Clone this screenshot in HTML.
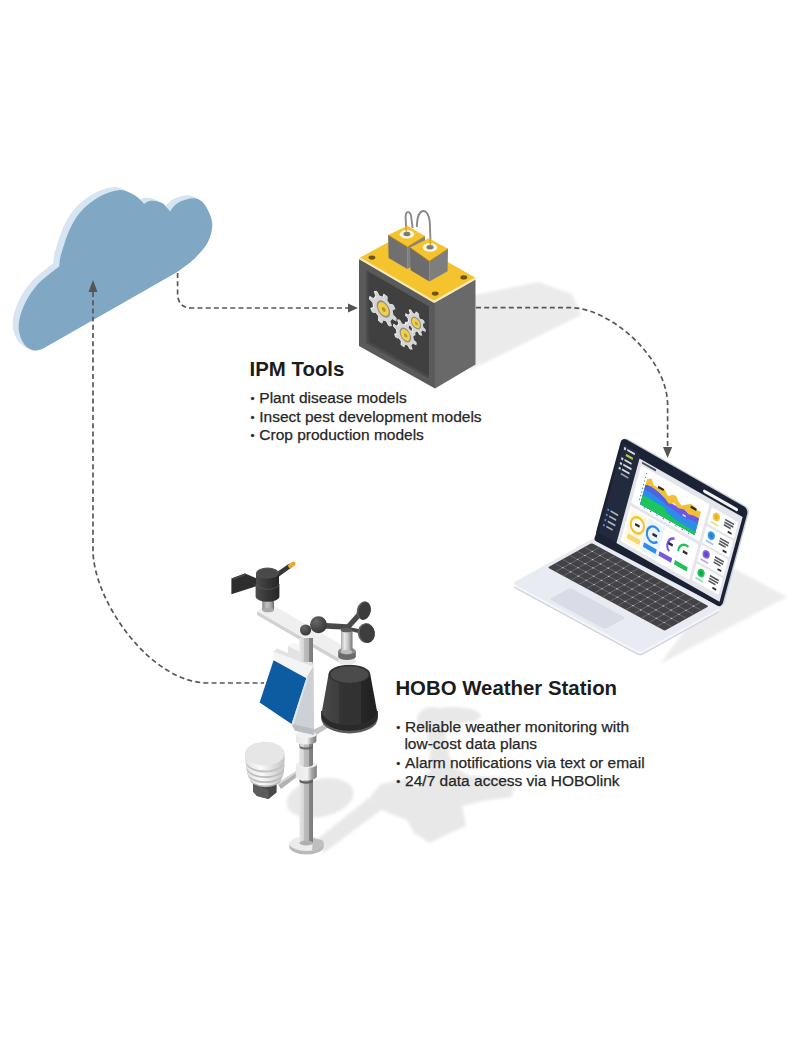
<!DOCTYPE html>
<html lang="en">
<head>
<meta charset="utf-8">
<title>IPM Tools and HOBO Weather Station</title>
<style>
  html, body { margin: 0; padding: 0; background: #ffffff; }
  body { width: 800px; height: 1040px; overflow: hidden; position: relative;
         font-family: "Liberation Sans", Arial, sans-serif; }
  svg { position: absolute; left: 0; top: 0; display: block; }
  .h { font-family: "Liberation Sans", Arial, sans-serif; font-weight: 700; font-size: 20.4px; fill: #1c1c1c; }
  .b { font-family: "Liberation Sans", Arial, sans-serif; font-weight: 400; font-size: 15.5px; fill: #262626; stroke: #262626; stroke-width: 0.25; }
  .dash { fill: none; stroke: #575757; stroke-width: 1.7; stroke-dasharray: 5 3.2; }
  .ah { fill: #555555; }
</style>
</head>
<body>
<svg width="800" height="1040" viewBox="0 0 800 1040">
  <defs>
    <filter id="soft" x="-5%" y="-5%" width="110%" height="110%"><feGaussianBlur stdDeviation="0.6"/></filter>
    <filter id="shadowblur" x="-10%" y="-10%" width="120%" height="120%"><feGaussianBlur stdDeviation="1.6"/></filter>
  </defs>
  <rect x="0" y="0" width="800" height="1040" fill="#ffffff"/>

  <!-- ============ SHADOWS ============ -->
  <g id="shadows" filter="url(#shadowblur)">
    <!-- box shadow -->
    <polygon points="470,296 538,282 572,294 581,315 470,370" fill="#ebebeb"/>
    <!-- laptop shadow -->
    <polygon points="733,568 787,597 660,664 700,610" fill="#ececec"/>
  </g>
  <!--SHST--><g id="stshadow" filter="url(#shadowblur)" fill="#e8e8e8">
    <polygon points="313,842.7 324.4,852.5 381,810 370,797"/>
    <ellipse cx="320" cy="798" rx="34" ry="19" transform="rotate(-12 320 798)"/>
    <polygon points="370,797 381,784 407,779 417,787.5 430,770 452,766 470,776 500,777 514,786 512,797 482,801 462,806 466,826 452,832 430,843 414,833 407,820 381,810"/>
    <ellipse cx="436" cy="818" rx="22" ry="15"/>
    <polygon points="426,728 445,728 447,748 454,768 430,772 430,750"/>
    <ellipse cx="432" cy="720" rx="15" ry="13"/>
    <ellipse cx="452" cy="715.5" rx="29" ry="8.5"/>
  </g><!--SHEND-->

  <!-- ============ CLOUD ============ -->
  <g id="cloud" filter="url(#soft)">
    <path d="M39.0,344.5 C34.7,346.7 32.8,347.4 30.0,347.5 C27.2,347.6 24.8,346.7 22.5,345.2 C20.2,343.7 18.1,341.6 16.5,338.5 C14.9,335.4 13.1,330.8 12.8,326.5 C12.4,322.2 12.9,318.0 14.2,313.0 C15.6,308.0 18.1,301.8 21.0,296.5 C23.9,291.2 27.8,285.8 31.5,281.5 C35.2,277.2 39.9,274.0 43.5,271.0 C47.1,268.0 51.6,264.8 53.2,263.5 C53.4,262.2 53.4,259.1 54.0,256.0 C54.6,252.9 55.5,249.7 57.0,245.0 C58.5,240.3 60.5,233.5 63.0,228.0 C65.5,222.5 68.5,216.7 72.0,212.0 C75.5,207.3 79.5,203.5 84.0,200.0 C88.5,196.5 94.0,193.2 99.0,191.0 C104.0,188.8 110.2,187.3 114.0,187.0 C117.8,186.7 119.4,188.0 122.0,189.0 C124.6,190.0 127.3,191.4 129.7,193.0 C132.1,194.6 134.8,197.3 136.2,198.7 C137.6,200.0 137.6,200.7 137.9,201.1 C138.7,200.6 140.8,198.7 142.7,198.2 C144.6,197.7 146.9,197.6 149.2,197.9 C151.5,198.2 154.7,199.2 156.6,200.3 C158.5,201.4 159.3,203.1 160.6,204.4 C161.9,205.8 163.6,207.7 164.2,208.4 C164.7,207.7 166.0,205.4 167.0,204.2 C168.0,203.0 169.2,202.0 170.4,201.1 C171.6,200.2 172.8,199.3 174.2,198.6 C175.5,197.9 176.9,197.5 178.5,197.0 C180.1,196.5 182.1,195.9 184.0,195.6 C185.9,195.3 188.2,195.1 189.9,195.4 C191.7,195.7 193.1,196.4 194.5,197.4 C195.9,198.4 197.0,199.3 198.4,201.3 C199.8,203.3 201.6,206.2 202.9,209.2 C204.2,212.1 205.7,215.8 206.1,219.0 C206.5,222.2 206.2,225.2 205.6,228.5 C204.9,231.8 203.5,235.8 202.2,238.5 C200.9,241.2 199.7,242.8 198.0,245.0 C196.3,247.2 194.2,249.7 192.0,252.0 C189.8,254.3 188.6,255.9 185.0,258.8 C181.4,261.7 175.7,266.0 170.4,269.4 Z" fill="#d6e5f1"/>
    <path d="M40.5,345.2 C36.2,347.4 34.2,348.1 31.5,348.2 C28.8,348.4 26.2,347.4 24.0,345.9 C21.8,344.4 19.6,342.4 18.0,339.2 C16.4,336.1 14.6,331.5 14.2,327.2 C13.9,323.0 14.4,318.8 15.8,313.8 C17.1,308.8 19.6,302.5 22.5,297.2 C25.4,292.0 29.2,286.5 33.0,282.2 C36.8,278.0 41.4,274.8 45.0,271.8 C48.6,268.8 53.1,265.5 54.8,264.2 C54.9,263.0 54.9,259.8 55.5,256.8 C56.1,253.7 57.0,250.4 58.5,245.8 C60.0,241.1 62.0,234.2 64.5,228.8 C67.0,223.2 70.0,217.4 73.5,212.8 C77.0,208.1 81.0,204.2 85.5,200.8 C90.0,197.2 95.5,193.9 100.5,191.8 C105.5,189.6 111.7,188.1 115.5,187.8 C119.3,187.4 120.9,188.8 123.5,189.8 C126.1,190.8 128.8,192.1 131.2,193.8 C133.6,195.4 136.3,198.1 137.7,199.4 C139.1,200.8 139.1,201.4 139.4,201.8 C140.2,201.4 142.3,199.5 144.2,198.9 C146.1,198.4 148.4,198.3 150.7,198.7 C153.0,199.0 156.2,200.0 158.1,201.1 C160.0,202.1 160.8,203.8 162.1,205.2 C163.4,206.5 165.1,208.5 165.7,209.2 C166.2,208.4 167.5,206.2 168.5,204.9 C169.5,203.7 170.7,202.8 171.9,201.8 C173.1,200.9 174.3,200.0 175.7,199.3 C177.0,198.7 178.4,198.2 180.0,197.8 C181.6,197.2 183.6,196.6 185.5,196.3 C187.4,196.1 189.7,195.8 191.4,196.2 C193.2,196.5 194.6,197.2 196.0,198.2 C197.4,199.1 198.5,200.1 199.9,202.1 C201.3,204.0 203.1,207.0 204.4,209.9 C205.7,212.9 207.2,216.5 207.6,219.8 C208.0,223.0 207.8,226.0 207.1,229.2 C206.4,232.5 205.0,236.5 203.7,239.2 C202.4,242.0 201.2,243.5 199.5,245.8 C197.8,248.0 195.7,250.4 193.5,252.8 C191.3,255.1 190.1,256.7 186.5,259.6 C182.9,262.4 177.2,266.7 171.9,270.1 Z" fill="#d6e5f1"/>
    <path d="M42.0,346.0 C37.7,348.2 35.8,348.9 33.0,349.0 C30.2,349.1 27.8,348.2 25.5,346.7 C23.2,345.2 21.1,343.1 19.5,340.0 C17.9,336.9 16.1,332.2 15.8,328.0 C15.4,323.8 15.9,319.5 17.2,314.5 C18.6,309.5 21.1,303.2 24.0,298.0 C26.9,292.8 30.8,287.2 34.5,283.0 C38.2,278.8 42.9,275.5 46.5,272.5 C50.1,269.5 54.6,266.2 56.2,265.0 C56.4,263.8 56.4,260.6 57.0,257.5 C57.6,254.4 58.5,251.2 60.0,246.5 C61.5,241.8 63.5,235.0 66.0,229.5 C68.5,224.0 71.5,218.2 75.0,213.5 C78.5,208.8 82.5,205.0 87.0,201.5 C91.5,198.0 97.0,194.7 102.0,192.5 C107.0,190.3 113.2,188.8 117.0,188.5 C120.8,188.2 122.4,189.5 125.0,190.5 C127.6,191.5 130.3,192.9 132.7,194.5 C135.1,196.1 137.8,198.8 139.2,200.2 C140.6,201.5 140.6,202.2 140.9,202.6 C141.7,202.1 143.8,200.2 145.7,199.7 C147.6,199.2 149.9,199.1 152.2,199.4 C154.5,199.8 157.7,200.7 159.6,201.8 C161.5,202.9 162.3,204.6 163.6,205.9 C164.9,207.2 166.6,209.2 167.2,209.9 C167.7,209.2 169.0,206.9 170.0,205.7 C171.0,204.5 172.2,203.5 173.4,202.6 C174.6,201.7 175.8,200.8 177.2,200.1 C178.5,199.4 179.9,199.0 181.5,198.5 C183.1,198.0 185.1,197.4 187.0,197.1 C188.9,196.8 191.2,196.6 192.9,196.9 C194.7,197.2 196.1,197.9 197.5,198.9 C198.9,199.9 200.0,200.8 201.4,202.8 C202.8,204.8 204.6,207.8 205.9,210.7 C207.2,213.6 208.7,217.3 209.1,220.5 C209.5,223.7 209.2,226.8 208.6,230.0 C207.9,233.2 206.5,237.2 205.2,240.0 C203.9,242.8 202.7,244.2 201.0,246.5 C199.3,248.8 197.2,251.2 195.0,253.5 C192.8,255.8 191.6,257.4 188.0,260.3 C184.4,263.2 178.7,267.5 173.4,270.9 Z" fill="#d6e5f1"/>
    <path d="M43.5,346.8 C39.2,348.9 37.2,349.6 34.5,349.8 C31.8,349.9 29.2,348.9 27.0,347.4 C24.8,345.9 22.6,343.9 21.0,340.8 C19.4,337.6 17.6,333.0 17.2,328.8 C16.9,324.5 17.4,320.2 18.8,315.2 C20.1,310.2 22.6,304.0 25.5,298.8 C28.4,293.5 32.2,288.0 36.0,283.8 C39.8,279.5 44.4,276.2 48.0,273.2 C51.6,270.2 56.1,267.0 57.8,265.8 C57.9,264.5 57.9,261.3 58.5,258.2 C59.1,255.2 60.0,251.9 61.5,247.2 C63.0,242.6 65.0,235.8 67.5,230.2 C70.0,224.8 73.0,218.9 76.5,214.2 C80.0,209.6 84.0,205.8 88.5,202.2 C93.0,198.8 98.5,195.4 103.5,193.2 C108.5,191.1 114.7,189.6 118.5,189.2 C122.3,188.9 123.9,190.2 126.5,191.2 C129.1,192.2 131.8,193.6 134.2,195.2 C136.6,196.9 139.3,199.6 140.7,200.9 C142.1,202.3 142.1,202.9 142.4,203.3 C143.2,202.9 145.3,201.0 147.2,200.4 C149.1,199.9 151.4,199.8 153.7,200.2 C156.0,200.5 159.2,201.5 161.1,202.6 C163.0,203.6 163.8,205.3 165.1,206.7 C166.4,208.0 168.1,210.0 168.7,210.7 C169.2,209.9 170.5,207.7 171.5,206.4 C172.5,205.2 173.7,204.3 174.9,203.3 C176.1,202.4 177.3,201.5 178.7,200.8 C180.0,200.2 181.4,199.8 183.0,199.2 C184.6,198.8 186.6,198.1 188.5,197.8 C190.4,197.6 192.7,197.3 194.4,197.7 C196.2,198.0 197.6,198.7 199.0,199.7 C200.4,200.6 201.5,201.6 202.9,203.6 C204.3,205.5 206.1,208.5 207.4,211.4 C208.7,214.4 210.2,218.0 210.6,221.2 C211.0,224.5 210.8,227.5 210.1,230.8 C209.4,234.0 208.0,238.0 206.7,240.8 C205.4,243.5 204.2,245.0 202.5,247.2 C200.8,249.5 198.7,251.9 196.5,254.2 C194.3,256.6 193.1,258.2 189.5,261.1 C185.9,263.9 180.2,268.2 174.9,271.6 Z" fill="#d6e5f1"/>
    <path d="M45.0,347.5 C40.7,349.7 38.8,350.4 36.0,350.5 C33.2,350.6 30.8,349.7 28.5,348.2 C26.2,346.7 24.1,344.6 22.5,341.5 C20.9,338.4 19.1,333.8 18.8,329.5 C18.4,325.2 18.9,321.0 20.2,316.0 C21.6,311.0 24.1,304.8 27.0,299.5 C29.9,294.2 33.8,288.8 37.5,284.5 C41.2,280.2 45.9,277.0 49.5,274.0 C53.1,271.0 57.6,267.8 59.2,266.5 C59.4,265.2 59.4,262.1 60.0,259.0 C60.6,255.9 61.5,252.7 63.0,248.0 C64.5,243.3 66.5,236.5 69.0,231.0 C71.5,225.5 74.5,219.7 78.0,215.0 C81.5,210.3 85.5,206.5 90.0,203.0 C94.5,199.5 100.0,196.2 105.0,194.0 C110.0,191.8 116.2,190.3 120.0,190.0 C123.8,189.7 125.4,191.0 128.0,192.0 C130.6,193.0 133.3,194.4 135.7,196.0 C138.1,197.6 140.8,200.3 142.2,201.7 C143.6,203.0 143.6,203.7 143.9,204.1 C144.7,203.6 146.8,201.7 148.7,201.2 C150.6,200.7 152.9,200.6 155.2,200.9 C157.5,201.2 160.7,202.2 162.6,203.3 C164.5,204.4 165.3,206.1 166.6,207.4 C167.9,208.8 169.6,210.7 170.2,211.4 C170.7,210.7 172.0,208.4 173.0,207.2 C174.0,206.0 175.2,205.0 176.4,204.1 C177.6,203.2 178.8,202.3 180.2,201.6 C181.5,200.9 182.9,200.5 184.5,200.0 C186.1,199.5 188.1,198.9 190.0,198.6 C191.9,198.3 194.2,198.1 195.9,198.4 C197.7,198.7 199.1,199.4 200.5,200.4 C201.9,201.4 203.0,202.3 204.4,204.3 C205.8,206.3 207.6,209.2 208.9,212.2 C210.2,215.1 211.7,218.8 212.1,222.0 C212.5,225.2 212.2,228.2 211.6,231.5 C210.9,234.8 209.5,238.8 208.2,241.5 C206.9,244.2 205.7,245.8 204.0,248.0 C202.3,250.2 200.2,252.7 198.0,255.0 C195.8,257.3 194.6,258.9 191.0,261.8 C187.4,264.7 181.7,269.0 176.4,272.4 Z" fill="#80a8c4"/>
  </g>

  <!-- ============ CONNECTORS ============ -->
  <g id="connectors">
    <path class="dash" d="M93,292 L93,550 C93,600 150,683 208,683 L264,683"/>
    <polygon class="ah" points="93,280 97.5,292 88.5,292"/>
    <path class="dash" d="M177.6,273 L177.6,293 Q177.6,308 192,308 L350,308"/>
    <polygon class="ah" points="358,308 348,303.5 348,312.5"/>
    <path class="dash" d="M476,307.6 L570,307.6 C610,307.6 667.6,358 667.6,405 L667.6,448"/>
    <polygon class="ah" points="667.6,458 663,447 672.2,447"/>
  </g>

  <!--BOXSTART--><!-- ============ IPM BOX ============ -->
  <g id="ipmbox" filter="url(#soft)">
    <!-- main body -->
    <polygon points="359,259 435,302.5 435,388.5 359,346" fill="#5a5a5a"/>
    <polygon points="435,302.5 475.5,279.5 475.5,364.5 435,388.5" fill="#696969"/>
    <polygon points="366.5,270.5 429,306.5 429,378.5 366.5,343" fill="#3f3f3f"/>
    <polygon points="366.5,343 429,378.5 429,376 368.5,341.5 368.5,272 366.5,270.5" fill="#4b4b4b"/>
    <!-- yellow top plate -->
    <polygon points="358,258.5 401,235 477,278.5 434,303" fill="#f6e9b4"/>
    <polygon points="360.5,257.6 401,235.6 474.8,277.6 434,300.4" fill="#f4c32e"/>
    <!-- screws -->
    <ellipse cx="371.9" cy="257.6" rx="3.4" ry="2.1" fill="#6b5712"/>
    <ellipse cx="463.8" cy="277.4" rx="3.4" ry="2.1" fill="#6b5712"/>
    <ellipse cx="435.2" cy="293.6" rx="3.4" ry="2.1" fill="#6b5712"/>
    <!-- wires -->
    <path d="M406.3,232 L405.6,217 C405.6,210.5 410.4,210.5 411.2,217 L412.6,228" fill="none" stroke="#8a8a8a" stroke-width="1.9"/>
    <path d="M416.9,227 C417,206 428.5,207 429.8,222 L430.6,245" fill="none" stroke="#8a8a8a" stroke-width="1.9"/>
    <!-- small cube 1 (back) -->
    <polygon points="388.1,235 407.5,246.9 407.5,269 388.6,258" fill="#6f6f6f"/>
    <polygon points="407.5,246.9 425,236.3 425,259 407.5,269" fill="#828282"/>
    <polygon points="388.1,235 407.5,225.8 425,236.3 407.5,246.9" fill="#f4c32e"/>
    <polyline points="388.1,235 407.5,246.9 425,236.3" fill="none" stroke="#b8860f" stroke-width="0.8"/>
    <ellipse cx="406.9" cy="234.2" rx="7.3" ry="4.3" fill="#fbf6e2"/>
    <ellipse cx="406.9" cy="234" rx="3.5" ry="2.2" fill="#7a7a7a"/>
    <!-- small cube 2 (front) -->
    <polygon points="410,247.5 429.4,261.2 429.4,281.6 410.6,270.3" fill="#6c6c6c"/>
    <polygon points="429.4,261.2 448,248.8 447.6,271.2 429.4,281.6" fill="#7e7e7e"/>
    <polygon points="410,247.5 428.8,238.2 448,248.8 429.4,261.2" fill="#f4c32e"/>
    <polyline points="410,247.5 429.4,261.2 448,248.8" fill="none" stroke="#b8860f" stroke-width="0.8"/>
    <ellipse cx="430" cy="247.4" rx="7.3" ry="4.3" fill="#fbf6e2"/>
    <ellipse cx="430" cy="247.2" rx="3.5" ry="2.2" fill="#7a7a7a"/>
    <path d="M406.3,232 L406.1,227" fill="none" stroke="#d9a81c" stroke-width="1.4"/>
    <path d="M430.4,245 L430.2,239" fill="none" stroke="#d9a81c" stroke-width="1.4"/>
    <!-- gears -->
    <g transform="translate(383.4,309.0) matrix(0.866,0.5,0,1,0,0)"><path d="M11.54,0.00 L15.53,1.47 L14.76,5.05 L10.52,4.75 L8.16,8.16 L9.94,12.02 L6.86,14.01 L4.08,10.80 L0.00,11.54 L-1.47,15.53 L-5.05,14.76 L-4.75,10.52 L-8.16,8.16 L-12.02,9.94 L-14.01,6.86 L-10.80,4.08 L-11.54,0.00 L-15.53,-1.47 L-14.76,-5.05 L-10.52,-4.75 L-8.16,-8.16 L-9.94,-12.02 L-6.86,-14.01 L-4.08,-10.80 L-0.00,-11.54 L1.47,-15.53 L5.05,-14.76 L4.75,-10.52 L8.16,-8.16 L12.02,-9.94 L14.01,-6.86 L10.80,-4.08Z" fill="#f2f2f2" transform="translate(-1.2,-0.2)"/><path d="M11.54,0.00 L15.53,1.47 L14.76,5.05 L10.52,4.75 L8.16,8.16 L9.94,12.02 L6.86,14.01 L4.08,10.80 L0.00,11.54 L-1.47,15.53 L-5.05,14.76 L-4.75,10.52 L-8.16,8.16 L-12.02,9.94 L-14.01,6.86 L-10.80,4.08 L-11.54,0.00 L-15.53,-1.47 L-14.76,-5.05 L-10.52,-4.75 L-8.16,-8.16 L-9.94,-12.02 L-6.86,-14.01 L-4.08,-10.80 L-0.00,-11.54 L1.47,-15.53 L5.05,-14.76 L4.75,-10.52 L8.16,-8.16 L12.02,-9.94 L14.01,-6.86 L10.80,-4.08Z" fill="#d4d4d4"/><circle r="7.80" fill="#8f8f86"/><circle r="6.24" fill="#f0cf4a"/><circle r="2.18" fill="#b39a2a" cx="0.4" cy="0.3"/></g>
    <g transform="translate(405.4,335.0) matrix(0.866,0.5,0,1,0,0)"><path d="M9.84,0.00 L13.24,1.25 L12.58,4.31 L8.97,4.05 L6.96,6.96 L8.48,10.25 L5.85,11.94 L3.48,9.21 L0.00,9.84 L-1.25,13.24 L-4.31,12.58 L-4.05,8.97 L-6.96,6.96 L-10.25,8.48 L-11.94,5.85 L-9.21,3.48 L-9.84,0.00 L-13.24,-1.25 L-12.58,-4.31 L-8.97,-4.05 L-6.96,-6.96 L-8.48,-10.25 L-5.85,-11.94 L-3.48,-9.21 L-0.00,-9.84 L1.25,-13.24 L4.31,-12.58 L4.05,-8.97 L6.96,-6.96 L10.25,-8.48 L11.94,-5.85 L9.21,-3.48Z" fill="#f2f2f2" transform="translate(-1.2,-0.2)"/><path d="M9.84,0.00 L13.24,1.25 L12.58,4.31 L8.97,4.05 L6.96,6.96 L8.48,10.25 L5.85,11.94 L3.48,9.21 L0.00,9.84 L-1.25,13.24 L-4.31,12.58 L-4.05,8.97 L-6.96,6.96 L-10.25,8.48 L-11.94,5.85 L-9.21,3.48 L-9.84,0.00 L-13.24,-1.25 L-12.58,-4.31 L-8.97,-4.05 L-6.96,-6.96 L-8.48,-10.25 L-5.85,-11.94 L-3.48,-9.21 L-0.00,-9.84 L1.25,-13.24 L4.31,-12.58 L4.05,-8.97 L6.96,-6.96 L10.25,-8.48 L11.94,-5.85 L9.21,-3.48Z" fill="#d4d4d4"/><circle r="6.65" fill="#8f8f86"/><circle r="5.32" fill="#f0cf4a"/><circle r="1.86" fill="#b39a2a" cx="0.4" cy="0.3"/></g>
    <g transform="translate(416.0,323.0) matrix(0.866,0.5,0,1,0,0)"><path d="M8.51,0.00 L11.45,1.08 L10.88,3.73 L7.76,3.50 L6.02,6.02 L7.33,8.86 L5.06,10.33 L3.01,7.96 L0.00,8.51 L-1.08,11.45 L-3.73,10.88 L-3.50,7.76 L-6.02,6.02 L-8.86,7.33 L-10.33,5.06 L-7.96,3.01 L-8.51,0.00 L-11.45,-1.08 L-10.88,-3.73 L-7.76,-3.50 L-6.02,-6.02 L-7.33,-8.86 L-5.06,-10.33 L-3.01,-7.96 L-0.00,-8.51 L1.08,-11.45 L3.73,-10.88 L3.50,-7.76 L6.02,-6.02 L8.86,-7.33 L10.33,-5.06 L7.96,-3.01Z" fill="#f2f2f2" transform="translate(-1.2,-0.2)"/><path d="M8.51,0.00 L11.45,1.08 L10.88,3.73 L7.76,3.50 L6.02,6.02 L7.33,8.86 L5.06,10.33 L3.01,7.96 L0.00,8.51 L-1.08,11.45 L-3.73,10.88 L-3.50,7.76 L-6.02,6.02 L-8.86,7.33 L-10.33,5.06 L-7.96,3.01 L-8.51,0.00 L-11.45,-1.08 L-10.88,-3.73 L-7.76,-3.50 L-6.02,-6.02 L-7.33,-8.86 L-5.06,-10.33 L-3.01,-7.96 L-0.00,-8.51 L1.08,-11.45 L3.73,-10.88 L3.50,-7.76 L6.02,-6.02 L8.86,-7.33 L10.33,-5.06 L7.96,-3.01Z" fill="#d4d4d4"/><circle r="5.75" fill="#8f8f86"/><circle r="4.60" fill="#f0cf4a"/><circle r="1.61" fill="#b39a2a" cx="0.4" cy="0.3"/></g>
  </g><!--BOXEND-->
  <!--LAPSTART--><!-- ============ LAPTOP ============ -->
  <g id="laptop" filter="url(#soft)">
    <!-- base -->
    <g transform="translate(0,4) matrix(0.8793,0.4759,0.8804,-0.4891,512.5,583.2)"><rect x="0" y="0" width="145" height="92" rx="3.5" fill="#cfd2df"/></g>
    <g transform="translate(0,2.5) matrix(0.8793,0.4759,0.8804,-0.4891,512.5,583.2)"><rect x="0" y="0" width="145" height="92" rx="3.5" fill="#f4f5f8"/></g>
    <g transform="matrix(0.8793,0.4759,0.8804,-0.4891,512.5,583.2)">
      <rect x="0" y="0" width="145" height="92" rx="3.5" fill="#e9ebf2"/>
      <rect x="38" y="4" width="63" height="23.5" rx="2" fill="#d9dce6"/>
      <rect x="4" y="36" width="133" height="50" rx="1.5" fill="#434346"/>
      <g stroke="#6e6e73" stroke-width="0.8"><line x1="12.9" y1="36.0" x2="12.9" y2="86.0"/><line x1="21.7" y1="36.0" x2="21.7" y2="86.0"/><line x1="30.6" y1="36.0" x2="30.6" y2="86.0"/><line x1="39.5" y1="36.0" x2="39.5" y2="86.0"/><line x1="48.3" y1="36.0" x2="48.3" y2="86.0"/><line x1="57.2" y1="36.0" x2="57.2" y2="86.0"/><line x1="66.1" y1="36.0" x2="66.1" y2="86.0"/><line x1="74.9" y1="36.0" x2="74.9" y2="86.0"/><line x1="83.8" y1="36.0" x2="83.8" y2="86.0"/><line x1="92.7" y1="36.0" x2="92.7" y2="86.0"/><line x1="101.5" y1="36.0" x2="101.5" y2="86.0"/><line x1="110.4" y1="36.0" x2="110.4" y2="86.0"/><line x1="119.3" y1="36.0" x2="119.3" y2="86.0"/><line x1="128.1" y1="36.0" x2="128.1" y2="86.0"/><line x1="4.0" y1="44.3" x2="137.0" y2="44.3"/><line x1="4.0" y1="52.7" x2="137.0" y2="52.7"/><line x1="4.0" y1="61.0" x2="137.0" y2="61.0"/><line x1="4.0" y1="69.3" x2="137.0" y2="69.3"/><line x1="4.0" y1="77.7" x2="137.0" y2="77.7"/></g><g fill="#c9c9ce"><circle cx="12.9" cy="44.3" r="0.75"/><circle cx="12.9" cy="52.7" r="0.75"/><circle cx="12.9" cy="61.0" r="0.75"/><circle cx="12.9" cy="69.3" r="0.75"/><circle cx="12.9" cy="77.7" r="0.75"/><circle cx="21.7" cy="44.3" r="0.75"/><circle cx="21.7" cy="52.7" r="0.75"/><circle cx="21.7" cy="61.0" r="0.75"/><circle cx="21.7" cy="69.3" r="0.75"/><circle cx="21.7" cy="77.7" r="0.75"/><circle cx="30.6" cy="44.3" r="0.75"/><circle cx="30.6" cy="52.7" r="0.75"/><circle cx="30.6" cy="61.0" r="0.75"/><circle cx="30.6" cy="69.3" r="0.75"/><circle cx="30.6" cy="77.7" r="0.75"/><circle cx="39.5" cy="44.3" r="0.75"/><circle cx="39.5" cy="52.7" r="0.75"/><circle cx="39.5" cy="61.0" r="0.75"/><circle cx="39.5" cy="69.3" r="0.75"/><circle cx="39.5" cy="77.7" r="0.75"/><circle cx="48.3" cy="44.3" r="0.75"/><circle cx="48.3" cy="52.7" r="0.75"/><circle cx="48.3" cy="61.0" r="0.75"/><circle cx="48.3" cy="69.3" r="0.75"/><circle cx="48.3" cy="77.7" r="0.75"/><circle cx="57.2" cy="44.3" r="0.75"/><circle cx="57.2" cy="52.7" r="0.75"/><circle cx="57.2" cy="61.0" r="0.75"/><circle cx="57.2" cy="69.3" r="0.75"/><circle cx="57.2" cy="77.7" r="0.75"/><circle cx="66.1" cy="44.3" r="0.75"/><circle cx="66.1" cy="52.7" r="0.75"/><circle cx="66.1" cy="61.0" r="0.75"/><circle cx="66.1" cy="69.3" r="0.75"/><circle cx="66.1" cy="77.7" r="0.75"/><circle cx="74.9" cy="44.3" r="0.75"/><circle cx="74.9" cy="52.7" r="0.75"/><circle cx="74.9" cy="61.0" r="0.75"/><circle cx="74.9" cy="69.3" r="0.75"/><circle cx="74.9" cy="77.7" r="0.75"/><circle cx="83.8" cy="44.3" r="0.75"/><circle cx="83.8" cy="52.7" r="0.75"/><circle cx="83.8" cy="61.0" r="0.75"/><circle cx="83.8" cy="69.3" r="0.75"/><circle cx="83.8" cy="77.7" r="0.75"/><circle cx="92.7" cy="44.3" r="0.75"/><circle cx="92.7" cy="52.7" r="0.75"/><circle cx="92.7" cy="61.0" r="0.75"/><circle cx="92.7" cy="69.3" r="0.75"/><circle cx="92.7" cy="77.7" r="0.75"/><circle cx="101.5" cy="44.3" r="0.75"/><circle cx="101.5" cy="52.7" r="0.75"/><circle cx="101.5" cy="61.0" r="0.75"/><circle cx="101.5" cy="69.3" r="0.75"/><circle cx="101.5" cy="77.7" r="0.75"/><circle cx="110.4" cy="44.3" r="0.75"/><circle cx="110.4" cy="52.7" r="0.75"/><circle cx="110.4" cy="61.0" r="0.75"/><circle cx="110.4" cy="69.3" r="0.75"/><circle cx="110.4" cy="77.7" r="0.75"/><circle cx="119.3" cy="44.3" r="0.75"/><circle cx="119.3" cy="52.7" r="0.75"/><circle cx="119.3" cy="61.0" r="0.75"/><circle cx="119.3" cy="69.3" r="0.75"/><circle cx="119.3" cy="77.7" r="0.75"/><circle cx="128.1" cy="44.3" r="0.75"/><circle cx="128.1" cy="52.7" r="0.75"/><circle cx="128.1" cy="61.0" r="0.75"/><circle cx="128.1" cy="69.3" r="0.75"/><circle cx="128.1" cy="77.7" r="0.75"/></g>
    </g>
    <!-- screen -->
    <path d="M597,531 L594.4,538.2 Q594,540.4 596.4,541.4 L720,606.6 L723,603 Z" fill="#1e2434"/>
    <g transform="translate(1.6,-0.4) matrix(0.6325,0.36,-0.2,0.7333,622,437)"><rect x="0" y="0" width="200" height="135" rx="7" fill="#c9ced8"/></g>
    <g transform="matrix(0.6325,0.36,-0.2,0.7333,622,437)">
      <rect x="0" y="0" width="200" height="135" rx="7" fill="#1e2434"/>
      <rect x="4" y="7" width="28" height="122" fill="#222a3d"/>
      <rect x="32" y="13.5" width="163" height="115.5" fill="#e4e6eb"/>
      <rect x="131" y="6.5" width="55" height="4.2" rx="2.1" fill="#f4f5f8"/>
      <!-- sidebar items -->
      <g fill="#d5d9e2">
        <rect x="7" y="10" width="3" height="3.5"/><rect x="12" y="10.5" width="12" height="2.5"/>
        <rect x="12" y="17" width="11" height="3" fill="#b7c64a"/>
        <rect x="7" y="24" width="3" height="3"/><rect x="12" y="24" width="11" height="2.4"/>
        <rect x="7" y="30.5" width="3" height="3"/><rect x="12" y="30.5" width="13" height="2.4"/>
        <rect x="7" y="37" width="3" height="3"/><rect x="12" y="37" width="12" height="2.4"/>
        <rect x="12" y="43" width="12" height="2.2" opacity="0.7"/>
        <rect x="7" y="94" width="2.5" height="2.5" fill="#5b8fe0"/><rect x="12" y="94" width="12" height="2.2" opacity="0.8"/>
        <rect x="7" y="101" width="2.5" height="2.5" fill="#5b8fe0"/><rect x="12" y="101" width="11" height="2.2" opacity="0.8"/>
        <rect x="7" y="108" width="2.5" height="2.5" fill="#5b8fe0"/><rect x="12" y="108" width="12" height="2.2" opacity="0.8"/>
        <rect x="7" y="115" width="2.5" height="2.5" fill="#5b8fe0"/><rect x="12" y="115" width="10" height="2.2" opacity="0.8"/>
      </g>
      <rect x="37" y="15.5" width="22" height="2.6" fill="#4a4f5c"/>
      <!-- chart card -->
      <rect x="37" y="20.5" width="108" height="51" rx="1.5" fill="#ffffff"/>
      <path d="M50,67 L50,33 L56,29 L61,35 L67,36 L73,33 L79,34 L85,39 L91,34 L96,33 L101,38 L107,41 L113,37 L119,33 L125,33 L131,36 L136,35 L136,67 Z" fill="#f2c034"/>
      <path d="M50,67 L50,40.5 L58,39 L66,40 L74,41.5 L82,44 L88,47 L96,44.5 L104,46 L112,44 L120,46.5 L128,44.5 L136,44.5 L136,67 Z" fill="#6a58e6"/>
      <path d="M50,67 L50,40.5 L58,39 L66,40 L74,41.5 L82,44 L88,47 L88,67 Z" fill="#4b63e4"/>
      <path d="M50,67 L50,47 L60,46.5 L70,47.5 L80,49 L88,51 L96,51 L106,53 L116,54 L126,51.5 L136,51 L136,67 Z" fill="#2b8ee8"/>
      <path d="M50,67 L50,54.5 L70,54.5 L84,55 L90,59 L100,61.5 L120,62.5 L136,62.5 L136,67 Z" fill="#1ec65c"/>
      <rect x="68" y="33" width="9" height="3" fill="#2a2a2a"/>
      <rect x="120" y="34.5" width="9" height="3" fill="#2a2a2a"/>
      <rect x="94" y="43" width="5" height="2.2" fill="#dfe8ff"/>
      <rect x="112" y="50" width="5" height="2.2" fill="#e6dcff"/>
      <g fill="#2a9d8f"><rect x="46.5" y="26" width="1.6" height="1.6"/><rect x="46.5" y="31" width="1.6" height="1.6"/><rect x="46.5" y="36" width="1.6" height="1.6"/><rect x="46.5" y="41" width="1.6" height="1.6"/><rect x="46.5" y="46" width="1.6" height="1.6"/><rect x="46.5" y="51" width="1.6" height="1.6"/><rect x="46.5" y="56" width="1.6" height="1.6"/><rect x="46.5" y="61" width="1.6" height="1.6"/>
      <rect x="56" y="68" width="2" height="1.4"/><rect x="66" y="68" width="2" height="1.4"/><rect x="76" y="68" width="2" height="1.4"/><rect x="86" y="68" width="2" height="1.4"/><rect x="96" y="68" width="2" height="1.4"/><rect x="106" y="68" width="2" height="1.4"/><rect x="116" y="68" width="2" height="1.4"/><rect x="126" y="68" width="2" height="1.4"/></g>
      <!-- gauges card -->
      <rect x="37" y="75.5" width="108" height="48" rx="1.5" fill="#ffffff"/>
      <rect x="40" y="78" width="28" height="43" fill="#fff8e2"/>
      <rect x="66.5" y="78" width="26" height="43" fill="#eaf4ff"/>
      <circle cx="54" cy="94" r="10" fill="#fffdf5" stroke="#f1c232" stroke-width="3"/>
      <rect x="44" y="109.5" width="20" height="6.5" fill="#f6d873"/>
      <path d="M86.5,87 A10,10 0 1 0 87.5,100" fill="none" stroke="#2f8be6" stroke-width="3"/>
      <rect x="69.5" y="109.5" width="20" height="6" fill="#2f8be6"/>
      <path d="M110,84.8 A10,10 0 0 0 107,103.2" fill="none" stroke="#7a55e6" stroke-width="3"/>
      <rect x="94" y="109.5" width="20" height="6" fill="#7a55e6"/>
      <path d="M119.5,97 A10,10 0 0 1 132,85" fill="none" stroke="#1ec45a" stroke-width="3"/>
      <rect x="118.5" y="109.5" width="20" height="6" fill="#1ec45a"/>
      <g fill="#2a2a2a"><rect x="50.5" y="92.4" width="7" height="3.2"/><rect x="78" y="92.4" width="7" height="3.2"/><rect x="103" y="92.4" width="7" height="3.2"/><rect x="126" y="92.4" width="7" height="3.2"/></g>
      <!-- right column cards -->
      <g>
        <rect x="149" y="22.5" width="42" height="22.5" rx="1.5" fill="#ffffff"/>
        <rect x="149" y="48" width="42" height="22.5" rx="1.5" fill="#ffffff"/>
        <rect x="149" y="73.5" width="42" height="22.5" rx="1.5" fill="#ffffff"/>
        <rect x="149" y="99" width="42" height="22.5" rx="1.5" fill="#ffffff"/>
        <circle cx="159" cy="31" r="5.4" fill="#f5c842"/><circle cx="159" cy="31" r="3" fill="#eab020"/>
        <circle cx="159" cy="56.5" r="5.4" fill="#3b9be8"/><circle cx="159" cy="56.5" r="3" fill="#2580d0"/>
        <circle cx="159" cy="82" r="5.4" fill="#7d5fe8"/><circle cx="159" cy="82" r="3" fill="#6345d0"/>
        <circle cx="159" cy="107.5" r="5.4" fill="#22c55e"/><circle cx="159" cy="107.5" r="3" fill="#12a548"/>
        <g fill="#f3d98a"><rect x="153" y="39" width="12" height="2.4"/></g>
        <g fill="#9cc6ef"><rect x="153" y="64.5" width="12" height="2.4"/></g>
        <g fill="#b9a8f0"><rect x="153" y="90" width="12" height="2.4"/></g>
        <g fill="#8fe0ad"><rect x="153" y="115.5" width="12" height="2.4"/></g>
        <g fill="#55585f">
          <rect x="172" y="27" width="14" height="2.2"/><rect x="172" y="30.5" width="14" height="2.2"/><rect x="172" y="34" width="11" height="2.2"/><rect x="180" y="39.5" width="6" height="2.4" fill="#2a2a2a"/>
          <rect x="172" y="52.5" width="14" height="2.2"/><rect x="172" y="56" width="14" height="2.2"/><rect x="172" y="59.5" width="11" height="2.2"/><rect x="180" y="65" width="6" height="2.4" fill="#2a2a2a"/>
          <rect x="172" y="78" width="14" height="2.2"/><rect x="172" y="81.5" width="14" height="2.2"/><rect x="172" y="85" width="11" height="2.2"/><rect x="180" y="90.5" width="6" height="2.4" fill="#2a2a2a"/>
          <rect x="172" y="103.5" width="14" height="2.2"/><rect x="172" y="107" width="14" height="2.2"/><rect x="172" y="110.5" width="11" height="2.2"/><rect x="180" y="116" width="6" height="2.4" fill="#2a2a2a"/>
        </g>
      </g>
    </g>
  </g><!--LAPEND-->
  <!--STSTART--><!-- ============ WEATHER STATION ============ -->
  <defs>
    <linearGradient id="gpole" x1="0" x2="1" y1="0" y2="0">
      <stop offset="0" stop-color="#e6e6e6"/><stop offset="0.3" stop-color="#d6d6d6"/><stop offset="0.34" stop-color="#bdbdbd"/><stop offset="0.68" stop-color="#b5b5b5"/><stop offset="0.72" stop-color="#858585"/><stop offset="1" stop-color="#7a7a7a"/>
    </linearGradient>
    <linearGradient id="gpost" x1="0" x2="1" y1="0" y2="0">
      <stop offset="0" stop-color="#a9a9a9"/><stop offset="0.3" stop-color="#e9e9e9"/><stop offset="0.6" stop-color="#c9c9c9"/><stop offset="1" stop-color="#777777"/>
    </linearGradient>
    <linearGradient id="gbucket" x1="0" x2="1" y1="0" y2="0">
      <stop offset="0" stop-color="#484848"/><stop offset="0.3" stop-color="#3e3e3e"/><stop offset="0.32" stop-color="#343434"/><stop offset="0.7" stop-color="#303030"/><stop offset="0.72" stop-color="#262626"/><stop offset="1" stop-color="#222222"/>
    </linearGradient>
    <linearGradient id="gvane" x1="0" x2="1" y1="0" y2="0">
      <stop offset="0" stop-color="#4c4c4c"/><stop offset="0.5" stop-color="#363636"/><stop offset="1" stop-color="#262626"/>
    </linearGradient>
    <linearGradient id="gshield" x1="0" x2="1" y1="0" y2="0">
      <stop offset="0" stop-color="#e2e2e2"/><stop offset="0.4" stop-color="#fafafa"/><stop offset="1" stop-color="#c4c4c4"/>
    </linearGradient>
    <linearGradient id="gpost2" x1="0" x2="1" y1="0" y2="0">
      <stop offset="0" stop-color="#8a8a8a"/><stop offset="0.4" stop-color="#c4c4c4"/><stop offset="0.7" stop-color="#a8a8a8"/><stop offset="1" stop-color="#6e6e6e"/>
    </linearGradient>
    <radialGradient id="gball" cx="0.35" cy="0.3" r="0.8">
      <stop offset="0" stop-color="#686868"/><stop offset="0.6" stop-color="#474747"/><stop offset="1" stop-color="#333333"/>
    </radialGradient>
  </defs>
  <g id="station" filter="url(#soft)">
    <!-- base flange -->
    <ellipse cx="306.5" cy="847" rx="17" ry="7.4" fill="#b9b9b9"/>
    <rect x="289.5" y="843.5" width="34" height="3.5" fill="#b9b9b9"/>
    <ellipse cx="306.5" cy="843.5" rx="17" ry="7.4" fill="#ececec"/>
    <path d="M313,838 L322,840 A17,7.4 0 0 1 312,850.4 Z" fill="#9a9a9a" opacity="0.55"/>
    <!-- pole -->
    <rect x="299.5" y="640" width="13.5" height="203" fill="url(#gpole)"/>
    <ellipse cx="306.25" cy="843" rx="6.75" ry="2.6" fill="#b0b0b0"/>
    <!-- shield arm -->
    <polygon points="277.5,783.6 300,768.6 300,774.6 281,789" fill="#b2b2b2"/>
    <polygon points="277.5,783.6 300,768.6 300,770.4 278.6,785" fill="#d8d8d8"/>
    <!-- bucket bracket -->
    <polygon points="313,730 329,722 329,727 313,737" fill="#c2c2c2"/>
    <!-- collars -->
    <defs>
      <linearGradient id="gcollar" x1="0" x2="1" y1="0" y2="0">
        <stop offset="0" stop-color="#e9e9e9"/><stop offset="0.55" stop-color="#f2f2f2"/><stop offset="0.75" stop-color="#a9a9a9"/><stop offset="1" stop-color="#7c7c7c"/>
      </linearGradient>
    </defs>
    <path d="M299.5,743.5 A6.75,2.4 0 0 0 313,743.5 L313,746 A6.75,2.4 0 0 1 299.5,746 Z" fill="#5e5e5e"/>
    <path d="M295.8,734.5 L295.8,741 A10.3,3.6 0 0 0 316.4,741 L316.4,734.5 Z" fill="url(#gcollar)"/>
    <ellipse cx="306.1" cy="734.5" rx="10.3" ry="3.6" fill="#f1f1f1"/>
    <path d="M299.5,779 A6.75,2.4 0 0 0 313,779 L313,781.4 A6.75,2.4 0 0 1 299.5,781.4 Z" fill="#5e5e5e"/>
    <path d="M295.8,764.5 L295.8,776.6 A10.5,3.6 0 0 0 316.8,776.6 L316.8,764.5 Z" fill="url(#gcollar)"/>
    <ellipse cx="306.3" cy="764.5" rx="10.5" ry="3.6" fill="#efefef"/>
    <path d="M299.5,745 L299.5,764.6 A6.75,2.3 0 0 0 313,764.6 L313,745 Z" fill="url(#gpole)"/>
    <path d="M299.5,745 A6.75,2.4 0 0 0 313,745 L313,747.2 A6.75,2.4 0 0 1 299.5,747.2 Z" fill="#5e5e5e" opacity="0.85"/>
    <!-- radiation shield -->
    <polygon points="253,784 276.6,784 276.6,792.5 268.5,799 257,796 253,791.5" fill="#484848"/>
    <polygon points="253,784 268.5,790 268.5,799 257,796 253,791.5" fill="#5c5c5c"/>
    <ellipse cx="265.6" cy="779" rx="15.5" ry="8.2" fill="#b4b4b4"/>
    <ellipse cx="265.6" cy="776.6" rx="16.8" ry="9" fill="url(#gshield)"/>
    <ellipse cx="265.4" cy="773.2" rx="18" ry="9.8" fill="#bcbcbc"/>
    <ellipse cx="265.4" cy="771" rx="18.6" ry="10.2" fill="url(#gshield)"/>
    <ellipse cx="265.2" cy="767.4" rx="19" ry="10.6" fill="#bcbcbc"/>
    <ellipse cx="265.2" cy="765.2" rx="19.4" ry="11" fill="url(#gshield)"/>
    <ellipse cx="265" cy="761.4" rx="19.5" ry="11.2" fill="#c2c2c2"/>
    <rect x="245.1" y="753.6" width="39.4" height="5.4" fill="url(#gshield)"/>
    <ellipse cx="264.8" cy="759" rx="19.7" ry="11.6" fill="url(#gshield)"/>
    <ellipse cx="264.8" cy="753.6" rx="19.7" ry="11.8" fill="#e6e6e6"/>
    <!-- logger box with solar panel -->
    <polygon points="288,646 294,643 312.5,652.5 312.5,668 288,655" fill="#e3e3e3"/>
    <polygon points="288,646 294,643 312.5,652.5 306.5,655.5" fill="#f6f6f6"/>
    <polygon points="306.3,678.3 313.6,666.5 314.1,729 295,730.8 291.6,723.9" fill="#cdd0d4"/>
    <polygon points="291.6,723.9 295,730.8 314.1,735 314.1,729" fill="#b9bcc0"/>
    <polygon points="273.6,651.5 313.6,666.5 306.3,678.3 273.6,660.3" fill="#f3f4f5"/>
    <polygon points="273.6,651.5 277,648.5 313.6,664 313.6,666.5" fill="#e2e3e5"/>
    <polygon points="273.6,660.3 306.3,678.3 291.6,723.9 259.6,702.5" fill="#0d5ba1"/>
    <polygon points="306.3,678.3 308.3,677 293.6,724.6 291.6,723.9" fill="#dfe8f0"/>
    <!-- crossarm -->
    <polygon points="257,611 341.5,659.8 341.5,664 257,615" fill="#d2d2d2"/>
    <polygon points="257,611 270,603.5 354.5,652.3 341.5,659.8" fill="#efefef"/>
    <polygon points="341.5,659.8 354.5,652.3 354.5,656.5 341.5,664" fill="#bcbcbc"/>
    <!-- pole clamp -->
    <rect x="299.5" y="638" width="13.5" height="24" fill="url(#gpole)"/>
    <!-- rain bucket -->
    <path d="M321.2,711 L321.2,718.5 A28.3,15 0 0 0 377.8,718.5 L377.8,711 Z" fill="#5a5a5a"/>
    <path d="M321.2,711 L321.2,716 A28.3,15 0 0 0 377.8,716 L377.8,711 Z" fill="#2c2c2c"/>
    <path d="M328.6,674 L322,711 A27.5,14 0 0 0 377,711 L370.2,674 Z" fill="url(#gbucket)"/>
    <ellipse cx="349.4" cy="674.2" rx="20.8" ry="9.5" fill="#303030"/>
    <ellipse cx="349.4" cy="674.6" rx="19" ry="8.3" fill="#4b4b4b"/>
    <!-- anemometer post -->
    <ellipse cx="347" cy="661" rx="9" ry="4" fill="#e9e9e9"/>
    <rect x="338.2" y="651" width="17.6" height="5.5" fill="#6a6a6a"/>
    <ellipse cx="347" cy="656.5" rx="8.8" ry="3.6" fill="#6a6a6a"/>
    <ellipse cx="347" cy="651" rx="8.8" ry="3.6" fill="#8c8c8c"/>
    <rect x="341" y="630" width="11.5" height="22" fill="url(#gpost)"/>
    <ellipse cx="346.75" cy="652" rx="5.75" ry="2.2" fill="#bdbdbd"/>
    <!-- anemometer -->
    <path d="M322,622.8 L347,624.2 L357,613 L361,616.5 L351,627.4 L361,629.5 L360,633.5 L346,629.8 L322,628.4 Z" fill="#4a4a4a"/>
    <ellipse cx="346.5" cy="630" rx="5.8" ry="2.3" fill="#5b5b5b"/>
    <circle cx="305.6" cy="630" r="5.6" fill="url(#gball)"/>
    <circle cx="318.5" cy="624.8" r="8.5" fill="url(#gball)"/>
    <ellipse cx="363.75" cy="610.6" rx="6.9" ry="9.4" transform="rotate(14 363.75 610.6)" fill="#5c5c5c"/>
    <ellipse cx="364.6" cy="610.9" rx="6" ry="8.8" transform="rotate(14 364.6 610.9)" fill="#3a3a3a"/>
    <ellipse cx="366.25" cy="633.1" rx="8.5" ry="10" transform="rotate(-8 366.25 633.1)" fill="#646464"/>
    <ellipse cx="367.2" cy="633.4" rx="7.6" ry="9.4" transform="rotate(-8 367.2 633.4)" fill="#3d3d3d"/>
    <!-- wind vane -->
    <rect x="262.2" y="596" width="11.8" height="14" fill="url(#gpost2)"/>
    <ellipse cx="268.1" cy="610" rx="5.9" ry="2.3" fill="#a8a8a8"/>
    <polygon points="231.4,578.6 245,573.6 257,578.4 257,586 231.4,594.2" fill="#2f2f2f"/>
    <polygon points="231.4,578.6 245,573.6 247.5,574.6 233.6,579.8" fill="#474747"/>
    <path d="M277,575 L289.5,566.2" stroke="#383838" stroke-width="4.6" stroke-linecap="round" fill="none"/>
    <path d="M290.2,565.9 L293.4,563.8" stroke="#eba836" stroke-width="4.4" stroke-linecap="round" fill="none"/>
    <path d="M255.6,584 L255.6,596.5 A11.9,5.2 0 0 0 279.4,596.5 L279.4,584 Z" fill="url(#gvane)"/>
    <path d="M256,573 L256,584 A11.5,5.3 0 0 0 279,584 L279,573 Z" fill="url(#gvane)"/>
    <path d="M256,584 A11.5,5.3 0 0 0 279,584" fill="none" stroke="#5a5a5a" stroke-width="0.7"/>
    <ellipse cx="267.5" cy="573" rx="11.5" ry="5.4" fill="#525252"/>
    <ellipse cx="267.5" cy="573.2" rx="9.6" ry="4.3" fill="#484848"/>
  </g><!--STEND-->

  <!-- ============ TEXT ============ -->
  <g id="text">
    <text class="h" x="249.6" y="376">IPM Tools</text>
    <text class="b" y="403.3"><tspan x="250.5" dy="-1.2" font-size="11.5px">• </tspan><tspan x="259.3" dy="1.2">Plant disease models</tspan></text>
    <text class="b" y="421.9"><tspan x="250.5" dy="-1.2" font-size="11.5px">• </tspan><tspan x="259.3" dy="1.2">Insect pest development models</tspan></text>
    <text class="b" y="440.4"><tspan x="250.5" dy="-1.2" font-size="11.5px">• </tspan><tspan x="259.3" dy="1.2">Crop production models</tspan></text>

    <text class="h" x="395.4" y="694.6">HOBO Weather Station</text>
    <text class="b" y="731.8"><tspan x="396.3" dy="-1.2" font-size="11.5px">• </tspan><tspan x="405.1" dy="1.2">Reliable weather monitoring with</tspan></text>
    <text class="b" x="404.4" y="749.2">low-cost data plans</text>
    <text class="b" y="768"><tspan x="396.3" dy="-1.2" font-size="11.5px">• </tspan><tspan x="405.1" dy="1.2">Alarm notifications via text or email</tspan></text>
    <text class="b" y="785.8"><tspan x="396.3" dy="-1.2" font-size="11.5px">• </tspan><tspan x="405.1" dy="1.2">24/7 data access via HOBOlink</tspan></text>
  </g>
</svg>
</body>
</html>
